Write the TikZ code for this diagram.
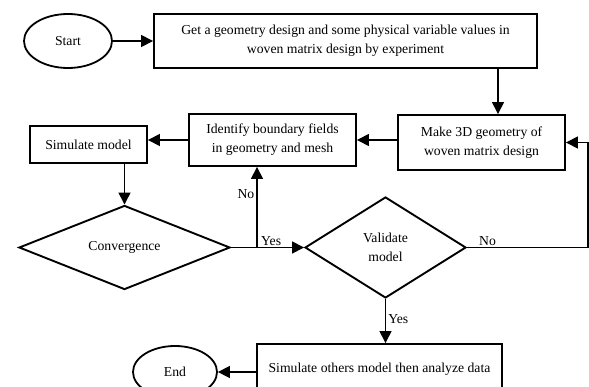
\documentclass[tikz,border=0pt]{standalone}
\usepackage{fontspec}
\setmainfont{Liberation Serif}
\usetikzlibrary{shapes.geometric,arrows.meta}
\tikzset{
  box/.style={draw, line width=1.9pt, rectangle, inner sep=0pt, align=center, font=\fontsize{13.7}{19}\selectfont},
  term/.style={draw, line width=1.8pt, ellipse, inner sep=0pt, font=\fontsize{13.7}{16}\selectfont},
  dec/.style={draw, line width=1.9pt, diamond, inner sep=0pt, align=center, font=\fontsize{13.7}{19}\selectfont},
  arr/.style={line width=1.5pt, -{Triangle[length=12pt,width=12pt]}},
  lab/.style={font=\fontsize{13.7}{16}\selectfont, inner sep=1pt}
}
\begin{document}
\begin{tikzpicture}[x=1pt,y=-1pt]
\useasboundingbox (0,0) rectangle (589,387);
\node[term, minimum width=88pt, minimum height=54pt] (start) at (68,41) {Start};
\node[box, minimum width=383pt, minimum height=54pt] (top) at (345.5,41) {Get a geometry design and some physical variable values in\\woven matrix design by experiment};
\node[box, minimum width=167pt, minimum height=55pt] (make) at (481.5,142.5) {Make 3D geometry of\\woven matrix design};
\node[box, minimum width=167pt, minimum height=52pt] (ident) at (272.5,140) {Identify boundary fields\\in geometry and mesh};
\node[box, minimum width=117pt, minimum height=37pt] (sim) at (88.5,144.5) {Simulate model};
\node[dec, minimum width=211pt, minimum height=75pt] (conv) at (124.5,247.5) {Convergence};
\node[dec, minimum width=161pt, minimum height=101pt] (val) at (385.5,247.5) {Validate\\model};
\node[box, minimum width=245pt, minimum height=50pt] (simo) at (379.5,369) {Simulate others model then analyze data};
\node[term, minimum width=84pt, minimum height=52pt] (end) at (175,372) {End};
\coordinate (c1) at (498,0);
\coordinate (j) at (257,247.5);
\coordinate (r) at (588,0);
\draw[arr] (start) -- (top);
\draw[arr] (top.south -| c1) -- (make.north -| c1);
\draw[arr] (ident.east -| make.west) -- (ident.east);
\draw[arr] (ident.west) -- (ident.west -| sim.east);
\draw[arr] (conv.north |- sim.south) -- (conv.north);
\draw[arr] (conv.east) -- (val.west) node[lab, pos=0.55, above] {Yes};
\draw[arr] (j) -- (j |- ident.south) node[lab, pos=0.66, left=1pt] {No};
\draw[arr] (val.east) -- (val.east -| r) node[lab, pos=0.17, above] {No} -- (r |- make.east) -- (make.east);
\draw[arr] (val.south) -- (val.south |- simo.north) node[lab, pos=0.45, right=1pt] {Yes};
\draw[arr] (simo.west |- end.east) -- (end.east);
\end{tikzpicture}
\end{document}
